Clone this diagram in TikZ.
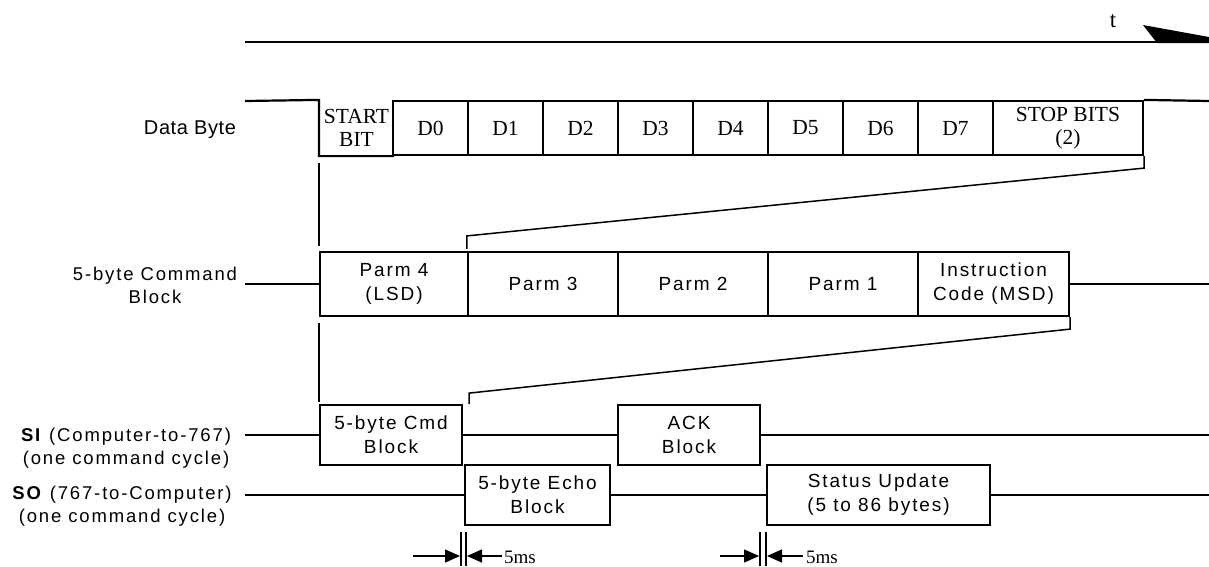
\documentclass[tikz,border=0pt]{standalone}
\usepackage{fontspec}
\setmainfont{Liberation Serif}
\newfontfamily\labfont[LetterSpace=10]{Liberation Sans}
\newfontfamily\plainsans[LetterSpace=3]{Liberation Sans}
\usetikzlibrary{calc,arrows.meta}
\begin{document}
\begin{tikzpicture}[x=1pt,y=-1pt,
  sig/.style={line width=2.2pt},
  thinln/.style={line width=1.5pt},
  bitcell/.style={draw,line width=2.2pt,inner sep=0pt,minimum height=54pt,align=center,
    font=\fontsize{21.5}{23}\selectfont},
  blk/.style={draw,line width=2.2pt,inner sep=0pt,align=center,
    font=\labfont\fontsize{19}{24}\selectfont},
  lab/.style={inner sep=0pt,align=center,font=\labfont\fontsize{18.5}{23}\selectfont},
  gap/.style={thinln,-{Triangle[length=15pt,width=13pt]}}
]
\useasboundingbox (0,0) rectangle (1209,566);
% time axis
\coordinate (t0) at (245,42);
\coordinate (t1) at (1209,42);
\draw[sig] (t0) -- (t1);
\fill (1143,25) -- (1209,37) -- (1209,43) -- (1157,43) -- cycle;
\node[font=\fontsize{23}{25}\selectfont] (tlab) at (1113,21) {t};

% data byte row
\node[inner sep=0pt,font=\plainsans\fontsize{20}{22}\selectfont] (lbyte) at (190,130) {Data Byte};
\node[bitcell,draw=none,minimum width=73pt] (sb) at (356.5,128) {START\\BIT};
\foreach \i in {0,...,7}
  \node[bitcell,minimum width=75pt] (d\i) at ({430.5+75*\i},128) {D\i};
\node[bitcell,minimum width=150pt] (stop) at (1068,128) {STOP BITS\\(2)};
\coordinate (dl) at (245,101);
\coordinate (dr) at (1209,101);
\draw[sig] (dl) -- (sb.north west) -- (sb.south west) -- (sb.south east);
\draw[sig] (stop.north east) -- (dr);

% command block row
\node[lab] (lcmd) at (155,285) {5-byte Command\\Block};
\node[blk,minimum width=148pt,minimum height=64pt] (p4) at (394,284) {Parm 4\\(LSD)};
\node[blk,minimum width=150pt,minimum height=64pt] (p3) at (543,284) {Parm 3};
\node[blk,minimum width=150pt,minimum height=64pt] (p2) at (693,284) {Parm 2};
\node[blk,minimum width=150pt,minimum height=64pt] (p1) at (843,284) {Parm 1};
\node[blk,minimum width=151pt,minimum height=64pt] (ic) at (993.5,284) {Instruction\\Code (MSD)};
\coordinate (cl) at (245,284);
\coordinate (cr) at (1209,284);
\draw[sig] (cl) -- (p4.west);
\draw[sig] (ic.east) -- (cr);

% expansion lines
\draw[thinln] ($(sb.south west)+(0,7)$) -- ($(p4.north west)+(0,-5)$);
\draw[thinln] (stop.south east) -- ++(0,12) -- ($(p3.north west)+(0,-15)$) -- ($(p3.north west)+(0,-2)$);
\draw[thinln] ($(p4.south west)+(0,6)$) -- ($(p4.south west)+(0,85)$);
\draw[thinln] (ic.south east) -- ++(0,12) -- ($(p4.south east)+(0,76)$) -- ($(p4.south east)+(0,87)$);

% SI row
\node[lab] (lsi) at (126,448) {\textbf{SI} (Computer-to-767)\\(one command cycle)};
\node[blk,minimum width=142pt,minimum height=60pt] (cmd) at (391,435) {5-byte Cmd\\Block};
\node[blk,minimum width=142pt,minimum height=60pt] (ack) at (689,435) {ACK\\Block};
\coordinate (sil) at (245,435);
\coordinate (sir) at (1209,435);
\draw[sig] (sil) -- (cmd.west);
\draw[sig] (cmd.east) -- (ack.west);
\draw[sig] (ack.east) -- (sir);

% SO row
\node[lab] (lso) at (122,506) {\textbf{SO} (767-to-Computer)\\(one command cycle)};
\node[blk,minimum width=145pt,minimum height=60pt] (echo) at (537.5,495) {5-byte Echo\\Block};
\node[blk,minimum width=223pt,minimum height=60pt] (status) at (878.5,495) {Status Update\\(5 to 86 bytes)};
\coordinate (sol) at (245,495);
\coordinate (sor) at (1209,495);
\draw[sig] (sol) -- (echo.west);
\draw[sig] (echo.east) -- (status.west);
\draw[sig] (status.east) -- (sor);

% 5ms markers
\coordinate (ma1) at (461,532); \coordinate (mb1) at (461,566);
\coordinate (ma2) at (466,532); \coordinate (mb2) at (466,566);
\draw[thinln] (ma1) -- (mb1);
\draw[thinln] (ma2) -- (mb2);
\coordinate (ga1) at (413,556); \coordinate (ga2) at (460,556);
\coordinate (gb1) at (502,556); \coordinate (gb2) at (467,556);
\draw[gap] (ga1) -- (ga2);
\draw[gap] (gb1) -- (gb2);
\node[lab,anchor=west,font=\fontsize{19}{20}\selectfont] (ms1) at (504,557) {5ms};

\coordinate (mc1) at (760,532); \coordinate (md1) at (760,566);
\coordinate (mc2) at (766,532); \coordinate (md2) at (766,566);
\draw[thinln] (mc1) -- (md1);
\draw[thinln] (mc2) -- (md2);
\coordinate (gc1) at (720,556); \coordinate (gc2) at (759,556);
\coordinate (gd1) at (803,556); \coordinate (gd2) at (767,556);
\draw[gap] (gc1) -- (gc2);
\draw[gap] (gd1) -- (gd2);
\node[lab,anchor=west,font=\fontsize{19}{20}\selectfont] (ms2) at (806,557) {5ms};
\end{tikzpicture}
\end{document}
